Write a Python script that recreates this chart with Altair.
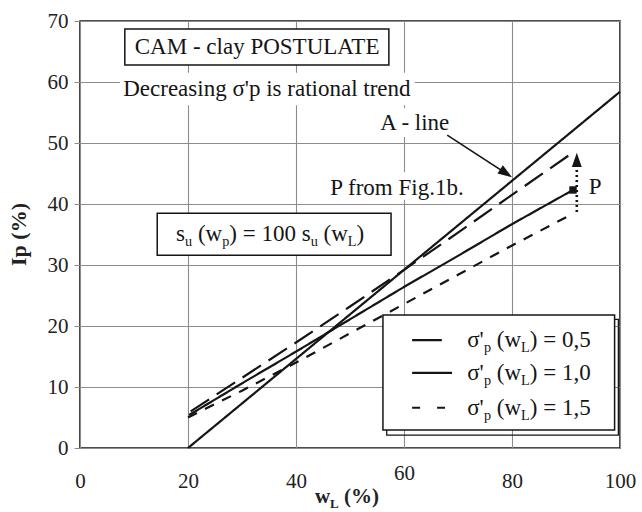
import altair as alt
import pandas as pd

FONT = "'Liberation Serif', 'Times New Roman', 'DejaVu Serif', serif"
INK = "#151515"
GRID = "#8c8c8c"
PW, PH = 540, 427
SX, SY = PW / 100.0, PH / 70.0

# ---------------- data ----------------
x_ticks = [0, 20, 40, 60, 80, 100]
y_ticks = [0, 10, 20, 30, 40, 50, 60, 70]

aline_wl = [20, 100]
aline_ip = [0, 58.4]

s05_wl = [20.5, 30, 40, 50, 60, 70, 80, 90.9]
s05_ip = [6.0, 11.5, 17.3, 23.2, 29.2, 35.3, 41.5, 48.2]

s10_wl = [20.2, 30, 40, 50, 60, 70, 80, 91.3]
s10_ip = [5.4, 10.6, 15.8, 21.1, 26.4, 31.5, 36.7, 42.3]

s15_wl = [20, 30, 40, 50, 60, 70, 80, 90.4]
s15_ip = [5.0, 9.4, 14.0, 18.8, 23.6, 28.4, 33.2, 38.0]

p_wl = [91.3]
p_ip = [42.3]
p_shift_wl = [92.0, 92.0]
p_shift_ip = [38.7, 46.5]
p_shift_tip = [92.0, 48.4]

aline_arrow_wl = [68.0, 79.6]
aline_arrow_ip = [51.3, 44.6]
aline_arrow_tip = [80.0, 44.4]

legend_values = ["0,5", "1,0", "1,5"]
legend_row_ip = [17.7, 12.3, 6.6]
legend_sample_wl = [61.5, 67.0, 61.5, 68.9, 61.5, 67.6]

# text labels
t_cam = "CAM - clay POSTULATE"
t_trend = "Decreasing \u03c3'p is rational trend"
t_aline = "A - line"
t_pfrom = "P from Fig.1b."
t_p = "P"

# boxes (wl, wl2, ip, ip2)
cam_box = (8.3, 57.2, 62.8, 68.7)
su_box = (14.3, 57.6, 31.6, 38.5)
legend_box = (56.1, 99.0, 2.95, 21.8)
legend_shadow = (56.8, 99.7, 2.1, 21.1)
white_bgs = [(7.4, 62.0, 56.2, 61.5), (55.2, 68.9, 51.0, 55.7), (45.9, 71.7, 40.7, 45.2)]

# ---------------- helpers ----------------
WID = {' ': .25, '(': .333, ')': .333, '=': .564, '0': .5, '1': .5, '5': .5,
       ',': .25, '.': .25, 'w': .722, 'L': .611, 'p': .5, 's': .389, 'u': .5,
       "'": .18, '\u03c3': .55, '%': .833}
WID_B = dict(WID, **{'L': .667, '%': 1.0, 'p': .556, 'w': .722})


def compose(parts, x0, yb, size, widths=WID):
    out = []
    px = 0.0
    for txt, sub in parts:
        fs = size * 0.62 if sub else size
        shift = size * 0.22 if sub else 0.0
        lead = len(txt) - len(txt.lstrip(' '))
        trail = len(txt) - len(txt.rstrip(' '))
        px += lead * widths[' '] * fs
        t = txt.strip(' ')
        out.append(dict(wl=x0 + px / SX, ip=yb - shift / SY, t=t, s=fs))
        px += sum(widths.get(c, .5) for c in t) * fs + trail * widths[' '] * fs
    return out


xs = alt.Scale(domain=[0, 100], nice=False, zero=False)
ys = alt.Scale(domain=[0, 70], nice=False, zero=False)
xaxis = alt.Axis(values=x_ticks, title=None, grid=True, gridColor=GRID, gridWidth=1.1,
                 ticks=False, tickSize=0, domain=False, labelFont=FONT, labelFontSize=21,
                 labelColor="#222",
                 labelPadding={"condition": {"test": "datum.value == 60", "value": 25}, "value": 33},
                 labelBaseline="middle", labelFlush=False, labelOverlap=False)
yaxis = alt.Axis(values=y_ticks, title="Ip (%)", titleFont=FONT, titleFontSize=22,
                 titleFontWeight="bold", titleX=-62, titleY=213, titleAngle=270,
                 titleAlign="center", titleBaseline="middle", titleColor="#222",
                 grid=True, gridColor=GRID, gridWidth=1.1, ticks=True, tickSize=6,
                 tickColor=GRID, domain=False, labelFont=FONT, labelFontSize=21,
                 labelPadding=6, labelColor="#222", labelFlush=False, labelOverlap=False)


def X(f="wl"):
    return alt.X(f"{f}:Q", scale=xs, axis=xaxis)


def Y(f="ip"):
    return alt.Y(f"{f}:Q", scale=ys, axis=yaxis)


# ---------------- tables ----------------
rows = []
for name, wl, ip in [("A", aline_wl, aline_ip), ("0,5", s05_wl, s05_ip),
                     ("1,0", s10_wl, s10_ip), ("1,5", s15_wl, s15_ip)]:
    for i, (a, b) in enumerate(zip(wl, ip)):
        rows.append(dict(series=name, wl=a, ip=b, o=i))
for k, key in enumerate(["L05", "L10", "L15"]):
    rows.append(dict(series=key, wl=legend_sample_wl[2 * k], ip=legend_row_ip[k], o=0))
    rows.append(dict(series=key, wl=legend_sample_wl[2 * k + 1], ip=legend_row_ip[k], o=1))
lines_df = pd.DataFrame(rows)

dash_domain = ["A", "0,5", "1,0", "1,5", "L05", "L10", "L15"]
dash_range = [[1, 0], [22, 9], [1, 0], [10, 9], [1, 0], [1, 0], [8, 17]]

boxes_df = pd.DataFrame([dict(wl=b[0], wl2=b[1], ip=b[2], ip2=b[3]) for b in [cam_box, su_box, legend_box]])
shadow_df = pd.DataFrame([dict(wl=legend_shadow[0], wl2=legend_shadow[1], ip=legend_shadow[2], ip2=legend_shadow[3])])
bg_df = pd.DataFrame([dict(wl=b[0], wl2=b[1], ip=b[2], ip2=b[3]) for b in white_bgs])

center_txt_df = pd.DataFrame([
    dict(wl=32.8, ip=65.7, t=t_cam),
    dict(wl=62.0, ip=53.3, t=t_aline),
    dict(wl=58.7, ip=42.6, t=t_pfrom),
    dict(wl=95.4, ip=42.8, t=t_p),
])
left_txt_df = pd.DataFrame([dict(wl=8.0, ip=58.9, t=t_trend)])

SIZE = 23
base_off = 0.32 * SIZE / SY
pieces = []
pieces += compose([("s", False), ("u", True), (" (w", False), ("p", True), (") = 100 s", False),
                   ("u", True), (" (w", False), ("L", True), (")", False)],
                  17.8, 35.1 - base_off, SIZE)
for v, yc in zip(legend_values, legend_row_ip):
    pieces += compose([("\u03c3'", False), ("p", True), (" (w", False), ("L", True),
                       (") = " + v, False)], 71.7, yc - base_off, 23)
pieces_df = pd.DataFrame(pieces)

title_pieces_df = pd.DataFrame(compose([("w", False), ("L", True), (" (%)", False)],
                                       43.5, -8.0 - 0.3 * 21 / SY, 21, WID_B))

shaft_df = pd.DataFrame(dict(wl=aline_arrow_wl, ip=aline_arrow_ip, o=[0, 1]))
pshift_df = pd.DataFrame(dict(wl=p_shift_wl, ip=p_shift_ip, o=[0, 1]))
heads_df = pd.DataFrame([dict(wl=aline_arrow_tip[0], ip=aline_arrow_tip[1], a=123),
                         dict(wl=p_shift_tip[0], ip=p_shift_tip[1], a=0)])
p_df = pd.DataFrame(dict(wl=p_wl, ip=p_ip))

# ---------------- layers ----------------
bgs = alt.Chart(bg_df).mark_rect(fill="white", strokeWidth=0).encode(
    x=X(), x2="wl2", y=Y(), y2="ip2")
shadow = alt.Chart(shadow_df).mark_rect(fill=None, fillOpacity=0, stroke=INK, strokeWidth=1.3).encode(
    x=X(), x2="wl2", y=Y(), y2="ip2")
boxes = alt.Chart(boxes_df).mark_rect(fill="white", stroke=INK, strokeWidth=1.5).encode(
    x=X(), x2="wl2", y=Y(), y2="ip2")

lines = alt.Chart(lines_df).mark_line(color=INK, strokeWidth=2.2).encode(
    x=X(), y=Y(), detail="series:N", order="o:Q",
    strokeDash=alt.StrokeDash("series:N", scale=alt.Scale(domain=dash_domain, range=dash_range), legend=None))

shaft = alt.Chart(shaft_df).mark_line(color=INK, strokeWidth=1.6).encode(x=X(), y=Y(), order="o:Q")
pshift = alt.Chart(pshift_df).mark_line(color=INK, strokeWidth=2.6, strokeDash=[2, 3]).encode(
    x=X(), y=Y(), order="o:Q")
heads = alt.Chart(heads_df).mark_point(shape="M0,0 L-0.35,1 L0.35,1 Z", filled=True, color=INK,
                                       opacity=1, size=800).encode(
    x=X(), y=Y(), angle=alt.Angle("a:Q", scale=None))
pmark = alt.Chart(p_df).mark_square(color=INK, opacity=1, size=55).encode(x=X(), y=Y())

center_txt = alt.Chart(center_txt_df).mark_text(font=FONT, fontSize=SIZE, align="center",
                                                baseline="middle", color=INK).encode(
    x=X(), y=Y(), text="t:N")
left_txt = alt.Chart(left_txt_df).mark_text(font=FONT, fontSize=SIZE, align="left",
                                            baseline="middle", color=INK).encode(
    x=X(), y=Y(), text="t:N")
piece_txt = alt.Chart(pieces_df).mark_text(font=FONT, align="left", baseline="alphabetic",
                                           color=INK).encode(
    x=X(), y=Y(), text="t:N", size=alt.Size("s:Q", scale=None))
title_txt = alt.Chart(title_pieces_df).mark_text(font=FONT, fontWeight="bold", align="left",
                                                 baseline="alphabetic", color="#222").encode(
    x=X(), y=Y(), text="t:N", size=alt.Size("s:Q", scale=None))

chart = alt.layer(
    bgs, shadow, boxes, lines, shaft, pshift, heads, pmark,
    center_txt, left_txt, piece_txt, title_txt
).properties(
    width=PW, height=PH,
    padding={"left": 80, "top": 21, "right": 22, "bottom": 64},
    autosize=alt.AutoSizeParams(type="none"),
    background="white",
).configure_view(stroke=INK, strokeWidth=1.6)

chart.save("out.html", embed_options={"renderer": "svg", "actions": False})
